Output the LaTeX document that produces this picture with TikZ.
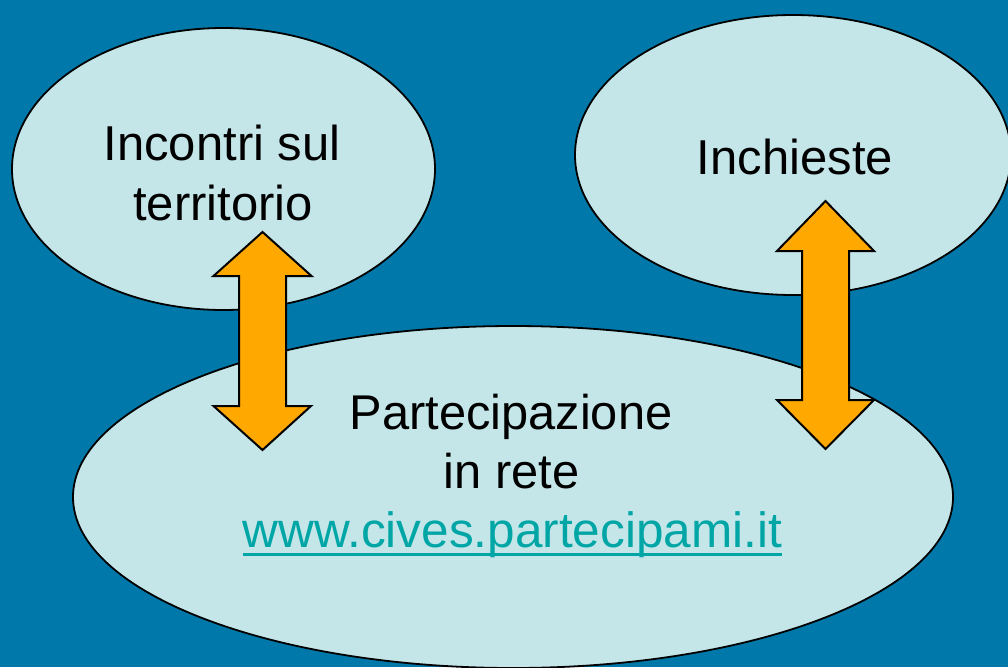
\documentclass[tikz,border=0pt]{standalone}
\usepackage{fontspec}
\setmainfont{Liberation Sans}
\usetikzlibrary{calc}
\definecolor{bgblue}{HTML}{0079AA}
\definecolor{elfill}{HTML}{C4E6E9}
\definecolor{arrorange}{HTML}{FFA800}
\definecolor{urlteal}{HTML}{00A6A6}
\tikzset{
  blob/.style={draw=black, line width=1.8pt, fill=elfill},
  bigtext/.style={font=\fontsize{49}{58}\selectfont, text=black, inner sep=0pt, anchor=base},
  midtext/.style={font=\fontsize{48.8}{58}\selectfont, text=black, inner sep=0pt, anchor=base},
  urltext/.style={font=\fontsize{49.5}{58}\selectfont, text=urlteal, inner sep=0pt, anchor=base},
  blockarrow/.style={draw=black, line width=2pt, fill=arrorange, line join=miter},
}
\begin{document}
\begin{tikzpicture}[x=1pt,y=-1pt]
  \fill[bgblue] (0,0) rectangle (1008,667);
  \useasboundingbox (0,0) rectangle (1008,667);
  % ellipses
  \coordinate (e1) at (223.5,169);
  \coordinate (e2) at (793,155);
  \coordinate (e3) at (513,497);
  \draw[blob] (e1) ellipse [x radius=211.5, y radius=141];
  \draw[blob] (e2) ellipse [x radius=218, y radius=140];
  \draw[blob] (e3) ellipse [x radius=440, y radius=171];
  % texts
  \node[bigtext] (t1a) at (222,160) {Incontri sul};
  \node[bigtext] (t1b) at (223,220) {territorio};
  \node[bigtext] (t2) at (795,174) {Inchieste};
  \node[midtext] (t3a) at (511,429) {Partecipazione};
  \node[midtext] (t3b) at (511.5,488) {in rete};
  \node[urltext] (url) at (512.5,547) {www.cives.partecipami.it};
  \draw[urlteal, line width=2.6pt] ($(url.base west)+(0,7.5)$) -- ($(url.base east)+(0,7.5)$);
  % left double arrow
  \coordinate (la) at (262.5,232);
  \draw[blockarrow] (la) -- ++(49,44) -- ++(-25.5,0) -- (286,406) -- ++(25,0) -- (262.5,450)
    -- (213.5,406) -- ++(25.5,0) -- (239,276) -- ++(-25.5,0) -- cycle;
  % right double arrow
  \coordinate (ra) at (825.5,201);
  \draw[blockarrow] (ra) -- ++(48.5,50) -- ++(-25,0) -- (849,400) -- ++(25,0) -- (825.5,449)
    -- (777,400) -- ++(25,0) -- (802,251) -- ++(-25,0) -- cycle;
\end{tikzpicture}
\end{document}
